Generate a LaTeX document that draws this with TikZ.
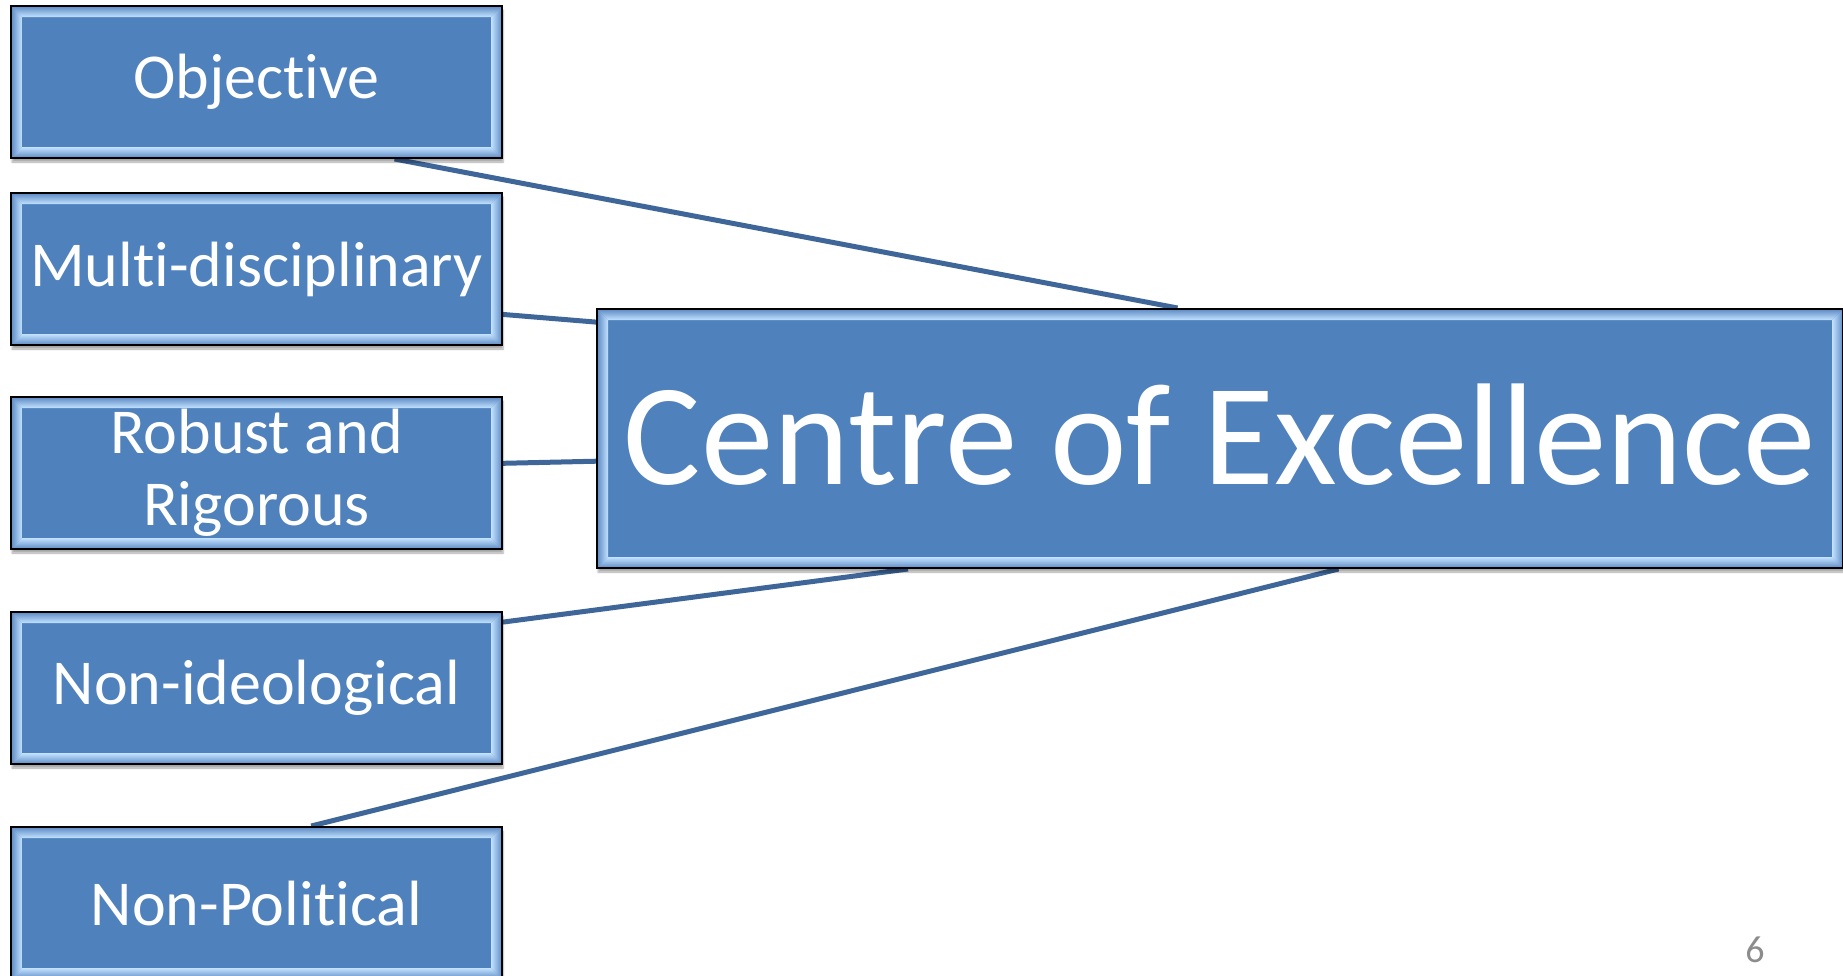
\documentclass[tikz,border=0pt]{standalone}
\usepackage{fontspec}
\setmainfont{Carlito}[Ligatures=NoCommon]
\usetikzlibrary{calc,backgrounds,shadows.blur}

\definecolor{boxblue}{HTML}{4F81BD}
\definecolor{bandblue}{HTML}{5E8AC4}
\definecolor{glint}{HTML}{C2E2FF}
\definecolor{linkblue}{HTML}{3E6699}
\definecolor{pagegray}{HTML}{8C8C8C}

\tikzset{
  bevelbox/.style={
    draw=black, line width=2pt, fill=boxblue, text=white,
    inner sep=0pt, anchor=north west, align=center,
    blur shadow={shadow xshift=1pt, shadow yshift=-4pt,
                 shadow blur steps=6, shadow opacity=35},
    path picture={
      \coordinate (bbsw) at (path picture bounding box.south west);
      \coordinate (bbnw) at (path picture bounding box.north west);
      \coordinate (bbse) at (path picture bounding box.south east);
      \coordinate (bbne) at (path picture bounding box.north east);
      % bevelled rim: four shaded bands, brightest at their inner edge
      \shade[left color=bandblue, right color=glint]
        (bbsw) -- ++(11pt,11pt) -- ([shift={(11pt,-11pt)}]bbnw) -- (bbnw) -- cycle;
      \shade[left color=glint, right color=bandblue]
        (bbse) -- ++(-11pt,11pt) -- ([shift={(-11pt,-11pt)}]bbne) -- (bbne) -- cycle;
      \shade[top color=bandblue, bottom color=glint]
        (bbnw) -- ++(11pt,-11pt) -- ([shift={(-11pt,-11pt)}]bbne) -- (bbne) -- cycle;
      \shade[top color=glint, bottom color=bandblue]
        (bbsw) -- ++(11pt,11pt) -- ([shift={(-11pt,11pt)}]bbse) -- (bbse) -- cycle;
    }},
  sidebox/.style={bevelbox, minimum width=491pt, minimum height=152pt,
    font=\fontsize{64}{72}\selectfont},
  hubbox/.style={bevelbox, minimum width=1246pt, minimum height=259pt,
    font=\fontsize{145}{160}\selectfont},
  link/.style={draw=linkblue, line width=5pt},
}

\begin{document}
\begin{tikzpicture}[x=1pt, y=-1pt]
  \useasboundingbox (0,0) rectangle (1843,975);

  % qualities on the left
  \node[sidebox] (obj)   at (10,5)   {Objective};
  \node[sidebox] (multi) at (10,192) {Multi-disciplinary};
  \node[sidebox] (rob)   at (10,396) {Robust and\\Rigorous};
  \node[sidebox] (ideo)  at (10,611) {Non-ideological};
  \node[sidebox] (pol)   at (10,826) {Non-Political};

  % central box
  \node[hubbox] (coe) at (596,308) {\raisebox{8pt}{Centre of Excellence}};

  % slide number
  \node[text=pagegray, font=\fontsize{38}{44}\selectfont] (pg) at (1755,950) {6};

  % connectors behind the boxes
  \begin{pgfonlayer}{background}
    \draw[link] ($(obj.south west)!0.78!(obj.south east)$)
             -- ($(coe.north west)!0.466!(coe.north east)$);
    \draw[link] ($(multi.north east)!0.795!(multi.south east)$)
             -- ($(coe.north west)!0.054!(coe.south west)$);
    \draw[link] ($(rob.north east)!0.437!(rob.south east)$)
             -- ($(coe.north west)!0.587!(coe.south west)$);
    \draw[link] ($(ideo.north east)!0.072!(ideo.south east)$)
             -- ($(coe.south west)!0.25!(coe.south east)$);
    \draw[link] ($(pol.north west)!0.611!(pol.north east)$)
             -- ($(coe.south west)!0.595!(coe.south east)$);
  \end{pgfonlayer}
\end{tikzpicture}
\end{document}
